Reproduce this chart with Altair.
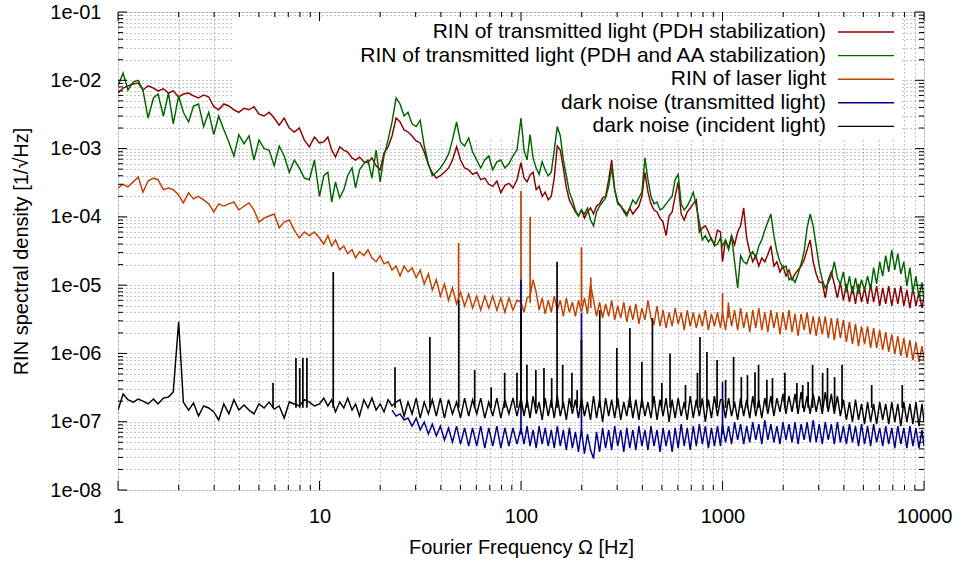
import altair as alt
import pandas as pd

# ---------------- data ----------------
freq_hz = [
    1.00, 1.06, 1.12, 1.19, 1.26, 1.33, 1.41, 1.50, 1.58, 1.68,
    1.78, 1.88, 2.00, 2.11, 2.24, 2.37, 2.51, 2.66, 2.82, 2.99,
    3.16, 3.35, 3.55, 3.76, 3.98, 4.22, 4.47, 4.73, 5.01, 5.31,
    5.62, 5.96, 6.31, 6.68, 7.08, 7.50, 7.94, 8.41, 8.91, 9.44,
    10.0, 10.5, 11.0, 11.5, 12.0, 12.6, 13.2, 13.8, 14.5, 15.1,
    15.8, 16.6, 17.4, 18.2, 19.1, 20.0, 20.9, 21.9, 22.9, 24.0,
    25.1, 26.3, 27.5, 28.8, 30.2, 31.6, 33.1, 34.7, 36.3, 38.0,
    39.8, 41.7, 43.7, 45.7, 47.9, 50.1, 52.5, 55.0, 57.5, 60.3,
    63.1, 66.1, 69.2, 72.4, 75.9, 79.4, 83.2, 87.1, 91.2, 95.5,
    100, 103.5, 107.2, 110.9, 114.8, 118.9, 123.0, 127.4, 131.8, 136.5,
    141.3, 146.2, 151.4, 156.7, 162.2, 167.9, 173.8, 179.9, 186.2, 192.8,
    199.5, 206.5, 213.8, 221.3, 229.1, 237.1, 245.5, 254.1, 263.0, 272.3,
    281.8, 291.7, 302.0, 312.6, 323.6, 335.0, 346.7, 358.9, 371.5, 384.6,
    398.1, 412.1, 426.6, 441.6, 457.1, 473.2, 489.8, 507.0, 524.8, 543.3,
    562.3, 582.1, 602.6, 623.7, 645.7, 668.3, 691.8, 716.1, 741.3, 767.4,
    794.3, 822.2, 851.1, 881.0, 912.0, 944.1, 977.2,
    1000, 1035, 1072, 1109, 1148, 1189, 1230, 1274, 1318, 1365,
    1413, 1462, 1514, 1567, 1622, 1679, 1738, 1799, 1862, 1928,
    1995, 2065, 2138, 2213, 2291, 2371, 2455, 2541, 2630, 2723,
    2818, 2917, 3020, 3126, 3236, 3350, 3467, 3589, 3715, 3846,
    3981, 4121, 4266, 4416, 4571, 4732, 4898, 5070, 5248, 5433,
    5623, 5821, 6026, 6237, 6457, 6683, 6918, 7161, 7413, 7674,
    7943, 8222, 8511, 8810, 9120, 9441, 9772, 10000,
]

pdh_rin = [
    6.5e-3, 7.7e-3, 8.3e-3, 8.8e-3, 9.1e-3, 7.2e-3, 8.3e-3, 7.7e-3, 7.0e-3, 7.5e-3,
    6.5e-3, 7.0e-3, 5.7e-3, 6.3e-3, 6.5e-3, 5.9e-3, 5.5e-3, 6.1e-3, 5.7e-3, 4.1e-3,
    3.7e-3, 4.5e-3, 4.2e-3, 3.7e-3, 3.4e-3, 3.9e-3, 3.7e-3, 4.1e-3, 3.2e-3, 3.0e-3,
    3.4e-3, 2.8e-3, 2.2e-3, 2.8e-3, 2.0e-3, 1.75e-3, 2.0e-3, 1.33e-3, 1.06e-3, 1.48e-3,
    1.21e-3, 1.25e-3, 1.48e-3, 9.5e-4, 7.5e-4, 1.06e-3, 9.5e-4, 8.9e-4, 7.3e-4, 6.8e-4,
    7.5e-4, 6.4e-4, 6.2e-4, 7.3e-4, 5.6e-4, 4.9e-4, 8.6e-4, 1.06e-3, 1.53e-3, 2.8e-3,
    2.45e-3, 1.87e-3, 1.75e-3, 1.53e-3, 1.29e-3, 1.21e-3, 8.9e-4, 5.8e-4, 4.4e-4, 3.7e-4,
    4.0e-4, 4.5e-4, 5.2e-4, 6.8e-4, 1.06e-3, 6.8e-4, 5.2e-4, 4.9e-4, 4.2e-4, 4.5e-4,
    3.5e-4, 3.7e-4, 3.0e-4, 2.8e-4, 3.35e-4, 2.25e-4, 2.9e-4, 3.1e-4, 2.65e-4, 3.5e-4,
    6.2e-4, 3.7e-4, 3.25e-4, 4.1e-4, 4.5e-4, 2.5e-4, 2.8e-4, 2.0e-4, 2.3e-4, 1.77e-4,
    2.0e-4, 3.7e-4, 1.09e-3, 9.5e-4, 5.2e-4, 2.65e-4, 1.77e-4, 1.44e-4, 1.18e-4, 1.03e-4,
    1.26e-4, 9.6e-5, 1.18e-4, 1.35e-4, 1.1e-4, 1.44e-4, 1.55e-4, 1.9e-4, 2.0e-4, 3.5e-4,
    6.8e-4, 2.5e-4, 1.65e-4, 1.44e-4, 1.26e-4, 1.1e-4, 1.35e-4, 1.1e-4, 1.26e-4, 1.44e-4,
    2.0e-4, 4.5e-4, 2.3e-4, 1.55e-4, 1.26e-4, 1.18e-4, 9.6e-5, 8.4e-5, 5.3e-5, 1.03e-4,
    1.18e-4, 2.0e-4, 3.25e-4, 1.1e-4, 9.0e-5, 1.18e-4, 1.35e-4, 1.55e-4, 1.77e-4, 6.0e-5,
    6.9e-5, 7.4e-5, 6.0e-5, 4.6e-5, 4.0e-5, 6.4e-5, 6.0e-5,
    2.2e-5, 4.6e-5, 3.5e-5, 5.3e-5, 3.9e-5, 6.0e-5, 7.4e-5, 1.35e-4, 4.9e-5, 3.1e-5,
    2.2e-5, 2.7e-5, 1.9e-5, 2.5e-5, 2.2e-5, 2.8e-5, 3.75e-5, 1.9e-5, 2.2e-5, 1.56e-5,
    1.9e-5, 1.36e-5, 1.67e-5, 1.2e-5, 1.46e-5, 1.67e-5, 1.9e-5, 2.34e-5, 3.3e-5, 4.6e-5,
    2.2e-5, 1.46e-5, 1.1e-5,
    1.1e-5, 6.5e-6, 1.2e-5, 1.56e-5, 1.04e-5, 6.5e-6, 1.1e-5, 6.0e-6, 1.04e-5, 5.65e-6,
    9.7e-6, 5.3e-6, 1.04e-5, 5.65e-6, 9.1e-6, 5.3e-6, 1.04e-5, 5.65e-6, 9.7e-6, 4.95e-6,
    9.1e-6, 5.3e-6, 9.7e-6, 4.95e-6, 9.1e-6, 5.3e-6, 9.7e-6, 4.95e-6, 8.5e-6, 4.6e-6,
    9.1e-6, 4.95e-6, 7.9e-6, 4.6e-6, 6.9e-6,
]

pdh_aa_rin = [
    8.3e-3, 1.28e-2, 7.2e-3, 9.4e-3, 1.0e-2, 7.2e-3, 2.8e-3, 5.5e-3, 6.3e-3, 3.0e-3,
    6.5e-3, 2.3e-3, 5.9e-3, 3.4e-3, 2.45e-3, 4.2e-3, 4.5e-3, 2.1e-3, 3.4e-3, 1.6e-3,
    3.0e-3, 1.9e-3, 1.25e-3, 7.8e-4, 1.6e-3, 1.17e-3, 1.53e-3, 6.8e-4, 1.34e-3, 1.0e-3,
    9.5e-4, 5.6e-4, 1.09e-3, 7.8e-4, 4.5e-4, 6.8e-4, 5.2e-4, 3.7e-4, 3.5e-4, 6.8e-4,
    2.0e-4, 4.0e-4, 4.5e-4, 1.65e-4, 3.25e-4, 1.9e-4, 2.5e-4, 4.0e-4, 5.2e-4, 2.65e-4,
    4.9e-4, 6.0e-4, 6.8e-4, 3.7e-4, 9.5e-4, 3.25e-4, 7.8e-4, 1.34e-3, 2.45e-3, 5.5e-3,
    4.5e-3, 3.0e-3, 3.4e-3, 2.3e-3, 2.1e-3, 2.6e-3, 1.09e-3, 6.0e-4, 4.0e-4, 4.5e-4,
    5.2e-4, 6.4e-4, 8.3e-4, 1.34e-3, 2.45e-3, 1.25e-3, 1.09e-3, 1.43e-3, 8.9e-4, 6.8e-4,
    5.2e-4, 6.8e-4, 7.8e-4, 4.9e-4, 6.4e-4, 6.8e-4, 5.2e-4, 6.0e-4, 7.8e-4, 9.5e-4,
    2.8e-3, 9.5e-4, 6.8e-4, 1.6e-3, 7.3e-4, 5.2e-4, 4.2e-4, 6.4e-4, 4.9e-4, 4.0e-4,
    4.5e-4, 9.5e-4, 2.1e-3, 1.53e-3, 6.8e-4, 4.0e-4, 2.3e-4, 1.77e-4, 1.26e-4, 1.03e-4,
    1.26e-4, 1.1e-4, 1.35e-4, 9.0e-5, 7.4e-5, 1.18e-4, 1.44e-4, 1.65e-4, 1.9e-4, 2.8e-4,
    5.2e-4, 2.5e-4, 1.55e-4, 1.44e-4, 1.18e-4, 1.03e-4, 1.35e-4, 1.77e-4, 1.55e-4, 1.9e-4,
    2.3e-4, 7.3e-4, 3.5e-4, 2.0e-4, 1.55e-4, 1.65e-4, 1.26e-4, 1.35e-4, 1.55e-4, 1.77e-4,
    2.0e-4, 3.5e-4, 4.2e-4, 1.55e-4, 1.26e-4, 1.44e-4, 1.77e-4, 2.3e-4, 1.44e-4, 8.4e-5,
    4.6e-5, 5.3e-5, 4.3e-5, 4.9e-5, 3.75e-5, 4.0e-5, 4.9e-5,
    3.75e-5, 4.6e-5, 3.3e-5, 5.3e-5, 2.2e-5, 9.1e-6, 2.7e-5, 2.2e-5, 2.05e-5, 2.7e-5,
    3.1e-5, 2.5e-5, 3.75e-5, 4.6e-5, 6.4e-5, 8.4e-5, 1.1e-4, 5.3e-5, 3.1e-5, 2.2e-5,
    1.8e-5, 1.9e-5, 1.2e-5, 1.28e-5, 1.1e-5, 1.46e-5, 2.05e-5, 3.1e-5, 6.9e-5, 1.1e-4,
    7.4e-5, 3.75e-5, 1.9e-5, 1.2e-5, 9.1e-6, 1.1e-5, 1.36e-5, 2.2e-5, 1.28e-5, 1.04e-5,
    1.56e-5, 7.9e-6, 1.36e-5, 7.4e-6, 1.28e-5, 7.4e-6, 1.2e-5, 8.5e-6, 1.36e-5, 8.5e-6,
    1.8e-5, 1.04e-5, 2.2e-5, 1.36e-5, 2.7e-5, 1.56e-5, 3.3e-5, 1.67e-5, 2.9e-5, 1.46e-5,
    2.2e-5, 9.7e-6, 1.8e-5, 7.9e-6, 1.36e-5, 6.5e-6, 1.1e-5, 6.0e-6,
]

laser_rin = [
    2.65e-4, 3.0e-4, 2.75e-4, 3.25e-4, 3.85e-4, 2.3e-4, 3.35e-4, 3.7e-4, 3.5e-4, 2.5e-4,
    2.65e-4, 2.5e-4, 2.1e-4, 1.6e-4, 2.25e-4, 1.83e-4, 2.0e-4, 1.77e-4, 1.55e-4, 1.18e-4,
    1.55e-4, 1.44e-4, 1.55e-4, 1.65e-4, 1.26e-4, 1.44e-4, 1.6e-4, 1.26e-4, 8.4e-5, 9.6e-5,
    1.03e-4, 1.1e-4, 6.9e-5, 8.4e-5, 9.0e-5, 6.4e-5, 4.9e-5, 6.0e-5, 5.3e-5, 6.0e-5,
    4.9e-5, 4.0e-5, 5.3e-5, 3.75e-5, 4.6e-5, 3.3e-5, 3.75e-5, 2.9e-5, 3.3e-5, 2.5e-5,
    3.1e-5, 2.7e-5, 3.3e-5, 2.5e-5, 2.2e-5, 2.7e-5, 2.05e-5, 2.2e-5, 1.67e-5, 1.9e-5,
    1.36e-5, 1.9e-5, 1.56e-5, 1.8e-5, 1.28e-5,
    1.67e-5, 1.04e-5, 1.46e-5, 8.5e-6, 1.2e-5, 6.9e-6, 1.04e-5, 6.0e-6, 9.1e-6, 5.3e-6,
    7.9e-6, 4.95e-6, 7.4e-6, 4.6e-6, 6.9e-6, 4.3e-6, 6.9e-6, 4.6e-6, 6.9e-6, 4.3e-6,
    6.5e-6, 4.0e-6, 6.5e-6, 4.3e-6, 6.0e-6,
    5.65e-6, 4.0e-6, 6.5e-6, 6.9e-6, 1.2e-5, 7.9e-6, 4.3e-6, 6.5e-6, 3.8e-6, 6.0e-6,
    4.0e-6, 6.9e-6, 4.3e-6, 6.0e-6, 3.5e-6, 6.5e-6, 4.0e-6, 5.65e-6, 3.5e-6, 6.0e-6,
    4.0e-6, 6.5e-6, 3.8e-6, 1.04e-5, 6.0e-6, 3.5e-6, 5.65e-6, 3.3e-6, 5.3e-6, 3.5e-6,
    6.0e-6, 3.1e-6, 4.95e-6, 3.3e-6, 5.65e-6, 2.9e-6, 4.95e-6, 3.1e-6, 5.3e-6, 2.7e-6,
    4.6e-6, 3.1e-6, 6.0e-6, 3.3e-6, 2.7e-6, 4.95e-6, 2.5e-6, 4.3e-6, 2.35e-6, 4.0e-6,
    2.5e-6, 4.6e-6, 2.7e-6, 4.0e-6, 2.2e-6, 4.3e-6, 2.5e-6, 4.0e-6, 2.35e-6, 3.8e-6,
    2.5e-6, 4.3e-6, 2.2e-6, 3.8e-6, 2.5e-6, 4.0e-6, 2.35e-6,
    4.0e-6, 2.2e-6, 4.95e-6, 2.5e-6, 4.3e-6, 2.2e-6, 4.6e-6, 2.35e-6, 4.0e-6, 2.05e-6,
    4.3e-6, 2.35e-6, 4.6e-6, 2.2e-6, 4.0e-6, 2.05e-6, 4.3e-6, 2.35e-6, 4.0e-6, 1.9e-6,
    4.0e-6, 2.2e-6, 4.3e-6, 2.05e-6, 3.8e-6, 1.8e-6, 3.8e-6, 2.2e-6, 4.0e-6, 1.9e-6,
    3.5e-6, 1.8e-6, 3.5e-6, 1.9e-6, 3.5e-6, 1.68e-6, 3.3e-6, 1.57e-6, 3.3e-6, 1.68e-6,
    3.1e-6, 1.47e-6, 2.9e-6, 1.37e-6, 2.7e-6, 1.28e-6, 2.5e-6, 1.37e-6, 2.5e-6, 1.2e-6,
    2.35e-6, 1.2e-6, 2.2e-6, 1.12e-6, 2.05e-6, 1.05e-6, 1.9e-6, 9.8e-7, 1.8e-6, 9.2e-7,
    1.68e-6, 8.6e-7, 1.57e-6, 8.0e-7, 1.47e-6, 7.5e-7, 1.28e-6, 8.0e-7,
]

# dark noise (transmitted light) becomes visible from about 23 Hz on
dark_trans_start = 58
dark_trans_rin = [
    1.48e-7, 1.21e-7, 1.3e-7, 1.06e-7, 1.13e-7, 8.6e-8, 1.13e-7, 7.6e-8, 9.9e-8, 6.6e-8,
    9.2e-8, 6.2e-8, 8.6e-8, 5.4e-8, 8.1e-8, 5.0e-8, 8.6e-8, 4.7e-8, 8.1e-8, 4.4e-8,
    8.1e-8, 4.4e-8, 8.6e-8, 4.1e-8, 8.1e-8, 4.4e-8, 8.6e-8, 4.1e-8, 8.1e-8, 4.4e-8,
    8.1e-8, 4.7e-8,
    8.1e-8, 4.7e-8, 8.6e-8, 4.4e-8, 7.6e-8, 4.1e-8, 8.6e-8, 4.7e-8, 8.1e-8, 4.4e-8,
    7.6e-8, 4.1e-8, 8.6e-8, 4.4e-8, 7.6e-8, 3.85e-8, 8.1e-8, 4.1e-8, 7.1e-8, 3.6e-8,
    7.6e-8, 3.4e-8, 6.6e-8, 3.85e-8, 2.9e-8, 7.1e-8, 3.6e-8, 8.1e-8, 4.1e-8, 7.6e-8,
    3.85e-8, 8.6e-8, 4.4e-8, 7.6e-8, 3.6e-8, 8.1e-8, 4.1e-8, 7.6e-8, 3.85e-8, 8.6e-8,
    4.4e-8, 7.6e-8, 3.85e-8, 8.6e-8, 4.4e-8, 7.6e-8, 3.6e-8, 8.1e-8, 4.4e-8, 7.6e-8,
    3.6e-8, 8.1e-8, 4.1e-8, 9.2e-8, 4.4e-8, 8.1e-8, 3.85e-8, 8.6e-8, 4.4e-8, 9.2e-8,
    4.7e-8, 8.6e-8, 4.1e-8, 8.1e-8, 4.4e-8, 8.6e-8, 4.4e-8,
    9.2e-8, 5.0e-8, 8.6e-8, 4.7e-8, 9.9e-8, 5.4e-8, 9.2e-8, 4.7e-8, 8.6e-8, 5.0e-8,
    9.9e-8, 5.4e-8, 9.2e-8, 4.7e-8, 1.06e-7, 5.4e-8, 9.2e-8, 5.0e-8, 8.6e-8, 4.7e-8,
    9.9e-8, 5.4e-8, 9.2e-8, 5.0e-8, 9.9e-8, 4.7e-8, 9.2e-8, 5.4e-8, 9.9e-8, 5.0e-8,
    1.06e-7, 5.0e-8, 9.2e-8, 4.7e-8, 9.9e-8, 5.4e-8, 9.2e-8, 4.7e-8, 9.9e-8, 5.0e-8,
    8.6e-8, 4.7e-8, 9.2e-8, 5.0e-8, 8.6e-8, 4.4e-8, 9.2e-8, 4.7e-8, 8.6e-8, 4.4e-8,
    9.2e-8, 5.0e-8, 8.1e-8, 4.4e-8, 8.6e-8, 4.7e-8, 8.1e-8, 4.1e-8, 8.6e-8, 4.7e-8,
    8.1e-8, 4.1e-8, 8.6e-8, 4.4e-8, 8.1e-8, 4.1e-8, 7.6e-8, 4.4e-8,
]

dark_inc_rin = [
    1.48e-7, 2.55e-7, 2.1e-7, 1.94e-7, 2.15e-7, 2.0e-7, 1.82e-7, 2.15e-7, 1.82e-7, 2.22e-7,
    2.3e-7, 2.72e-7, 2.9e-6, 1.94e-7, 1.48e-7, 1.88e-7, 1.21e-7, 1.7e-7, 1.59e-7, 1.39e-7,
    1.06e-7, 1.82e-7, 1.3e-7, 2.1e-7, 1.48e-7, 1.76e-7, 1.48e-7, 1.3e-7, 1.82e-7, 1.59e-7,
    1.94e-7, 1.53e-7, 1.7e-7, 1.13e-7, 1.94e-7, 1.82e-7, 1.7e-7, 2.1e-7, 1.94e-7, 1.7e-7,
    1.82e-7, 2.22e-7, 1.7e-7, 2.1e-7, 1.39e-7, 1.94e-7, 1.59e-7, 2.22e-7, 1.48e-7, 1.82e-7,
    1.21e-7, 2.1e-7, 1.59e-7, 2.22e-7, 1.48e-7, 1.82e-7, 1.39e-7, 2.1e-7, 1.7e-7, 1.94e-7,
    2.1e-7, 1.21e-7, 1.94e-7, 1.3e-7, 2.22e-7, 1.13e-7, 1.94e-7, 1.3e-7, 2.1e-7, 1.21e-7,
    2.22e-7, 1.13e-7, 2.1e-7, 1.3e-7, 1.94e-7, 1.13e-7, 2.22e-7, 1.21e-7, 2.1e-7, 1.3e-7,
    2.22e-7, 1.13e-7, 1.94e-7, 1.21e-7, 2.22e-7, 1.13e-7, 2.1e-7, 1.3e-7, 2.22e-7, 1.21e-7,
    2.22e-7, 1.21e-7, 2.1e-7, 1.13e-7, 2.38e-7, 1.3e-7, 1.94e-7, 1.06e-7, 2.22e-7, 1.21e-7,
    2.1e-7, 1.13e-7, 2.38e-7, 1.21e-7, 1.94e-7, 1.06e-7, 2.22e-7, 1.3e-7, 2.1e-7, 1.13e-7,
    2.22e-7, 1.21e-7, 1.94e-7, 1.06e-7, 2.38e-7, 1.13e-7, 2.1e-7, 9.9e-8, 2.22e-7, 1.21e-7,
    2.1e-7, 1.13e-7, 2.22e-7, 1.06e-7, 1.94e-7, 1.21e-7, 2.38e-7, 1.13e-7, 2.1e-7, 1.06e-7,
    2.22e-7, 1.21e-7, 1.94e-7, 1.13e-7, 2.38e-7, 1.06e-7, 2.1e-7, 1.21e-7, 2.22e-7, 9.9e-8,
    2.1e-7, 1.13e-7, 2.22e-7, 1.21e-7, 1.94e-7, 1.06e-7, 2.38e-7, 1.13e-7, 2.1e-7, 1.21e-7,
    2.22e-7, 9.9e-8, 2.1e-7, 1.13e-7, 2.38e-7, 1.21e-7, 2.1e-7,
    2.1e-7, 1.13e-7, 2.22e-7, 1.21e-7, 1.94e-7, 1.06e-7, 2.22e-7, 1.21e-7, 2.1e-7, 1.13e-7,
    2.38e-7, 1.21e-7, 2.1e-7, 1.13e-7, 2.22e-7, 1.3e-7, 2.38e-7, 1.21e-7, 2.22e-7, 1.39e-7,
    2.55e-7, 1.3e-7, 2.38e-7, 1.39e-7, 2.55e-7, 1.3e-7, 2.72e-7, 1.39e-7, 2.38e-7, 1.3e-7,
    2.55e-7, 1.39e-7, 2.38e-7, 1.3e-7, 2.72e-7, 1.39e-7, 2.55e-7, 1.3e-7, 2.38e-7, 1.21e-7,
    2.1e-7, 1.06e-7, 1.94e-7, 9.9e-8, 2.1e-7, 1.06e-7, 1.82e-7, 9.2e-8, 1.94e-7, 9.9e-8,
    1.82e-7, 9.2e-8, 1.94e-7, 1.06e-7, 1.82e-7, 9.2e-8, 1.94e-7, 9.9e-8, 1.82e-7, 8.6e-8,
    1.94e-7, 9.9e-8, 1.82e-7, 9.2e-8, 1.94e-7, 8.6e-8, 1.82e-7, 9.9e-8,
]

# narrow spectral lines (frequency, top of line, floor under it)
laser_spike_hz = [49.0, 100.0, 111.0, 199.5, 222.0, 1000.0, 1070.0]
laser_spike_top = [4.15e-5, 2.4e-4, 1.0e-4, 3.6e-5, 1.3e-5, 7.6e-6, 5.6e-6]
laser_spike_base = [6.0e-6, 5.6e-6, 5.5e-6, 4.9e-6, 4.6e-6, 3.3e-6, 3.3e-6]

dark_trans_spike_hz = [100.0, 199.5, 1000.0]
dark_trans_spike_top = [1.2e-5, 3.9e-6, 3.8e-7]
dark_trans_floor = 6.5e-8

dark_inc_spike_hz = [
    5.88, 7.64, 7.98, 8.27, 8.66, 11.7, 23.7, 35.3, 49.1, 58.9,
    71.1, 83.0, 95.5, 100.0, 107.0, 118.5, 130.0, 142.0, 151.0, 161.0,
    179.0, 190.0, 199.5, 246.0, 299.0, 347.0, 398.0, 449.0, 500.0, 549.0,
    655.0, 751.0, 773.0, 837.0, 940.0, 1036, 1135, 1240, 1330, 1450,
    1510, 1660, 1770, 2040, 2340, 2500, 2660, 2800, 3140, 3320,
    3600, 3920, 5500, 7800,
]
dark_inc_spike_top = [
    3.7e-7, 8.6e-7, 6.1e-7, 8.6e-7, 8.6e-7, 1.56e-5, 6.3e-7, 1.74e-6, 6.0e-6, 5.7e-7,
    3.2e-7, 5.2e-7, 5.2e-7, 4.5e-6, 6.8e-7, 5.7e-7, 6.1e-7, 4.35e-7, 2.2e-5, 6.8e-7,
    5.2e-7, 2.9e-7, 1.6e-6, 4.3e-6, 1.2e-6, 2.35e-6, 7.5e-7, 3.3e-6, 3.7e-7, 1.0e-6,
    3.45e-7, 5.2e-7, 1.74e-6, 1.05e-6, 8.0e-7, 4.1e-7, 8.9e-7, 4.5e-7, 4.8e-7, 5.3e-7,
    6.8e-7, 4.1e-7, 4.35e-7, 5.2e-7, 3.7e-7, 3.45e-7, 3.8e-7, 6.8e-7, 5.2e-7, 6.1e-7,
    4.5e-7, 6.8e-7, 3.45e-7, 3.45e-7,
]
dark_inc_floor = 1.6e-7

series_labels = [
    "RIN of transmitted light (PDH stabilization)",
    "RIN of transmitted light (PDH and AA stabilization)",
    "RIN of laser light",
    "dark noise (transmitted light)",
    "dark noise (incident light)",
]
series_colors = ["#8b0000", "#006400", "#c04000", "#00008b", "#000000"]

x_major = [1, 10, 100, 1000, 10000]
y_major = [1e-8, 1e-7, 1e-6, 1e-5, 1e-4, 1e-3, 1e-2, 1e-1]
mantissas = [2, 3, 4, 5, 6, 7, 8, 9]

assert len(pdh_rin) == len(freq_hz)
assert len(pdh_aa_rin) == len(freq_hz)
assert len(laser_rin) == len(freq_hz)
assert len(dark_inc_rin) == len(freq_hz)
assert len(dark_trans_rin) == len(freq_hz) - dark_trans_start
assert len(dark_inc_spike_hz) == len(dark_inc_spike_top)

# ---------------- chart ----------------
W, H = 806, 478
FONT = "Liberation Sans"
LINE_W = 1.45

x_minor = [m * d for d in x_major[:-1] for m in mantissas]
y_minor = [m * d for d in y_major[:-1] for m in mantissas]

x_scale = alt.Scale(type="log", domain=[1, 10000], nice=False)
y_scale = alt.Scale(type="log", domain=[1e-8, 1e-1], nice=False)

is_decade = "abs(log(datum.value)/LN10 - round(log(datum.value)/LN10)) < 0.001"
grid_style = dict(grid=True, gridColor="#8a8a8a", gridDash=[1, 3], gridWidth=1,
                  ticks=False, domain=False, labelFont=FONT, labelFontSize=20,
                  labelColor="#000000", titleFont=FONT, titleFontSize=20,
                  titleFontWeight="normal", titleColor="#000000",
                  labelFlush=False, labelOverlap=False)

x_axis = alt.Axis(values=sorted(x_major + x_minor),
                  labelExpr=f"{is_decade} ? format(datum.value, 'd') : ''",
                  labelPadding=16, title="Fourier Frequency Ω [Hz]",
                  titlePadding=11, **grid_style)
y_axis = alt.Axis(values=sorted(y_major + y_minor),
                  labelExpr=f"{is_decade} ? '1e-0' + format(-round(log(datum.value)/LN10), 'd') : ''",
                  labelPadding=17, title="RIN spectral density [1/√Hz]",
                  titlePadding=18, **grid_style)


def X(field):
    return alt.X(field, type="quantitative", scale=x_scale, axis=x_axis)


def Y(field):
    return alt.Y(field, type="quantitative", scale=y_scale, axis=y_axis)


def line_layer(freqs, values, color):
    df = pd.DataFrame({"f": freqs, "rin": values})
    return alt.Chart(df).mark_line(color=color, strokeWidth=LINE_W, clip=True).encode(
        x=X("f"), y=Y("rin"))


def spike_layer(freqs, tops, color, bases=None, floor=None):
    df = pd.DataFrame({"f": freqs, "rin": tops})
    if bases is not None:
        df["base"] = bases
        y2 = alt.Y2("base")
    else:
        y2 = alt.datum(floor)
    return alt.Chart(df).mark_rule(color=color, strokeWidth=1.7, clip=True).encode(
        x=X("f"), y=Y("rin"), y2=y2)


one_row = pd.DataFrame({"a": [0]})

# key area hides the dotted grid (as in the original plot)
key_mask = alt.Chart(one_row).mark_rect(color="white").encode(
    x=alt.value(114), x2=alt.value(782), y=alt.value(5), y2=alt.value(126))

layers = [
    key_mask,
    line_layer(freq_hz, pdh_rin, series_colors[0]),
    line_layer(freq_hz, pdh_aa_rin, series_colors[1]),
    line_layer(freq_hz, laser_rin, series_colors[2]),
    spike_layer(laser_spike_hz, laser_spike_top, series_colors[2], bases=laser_spike_base),
    line_layer(freq_hz[dark_trans_start:], dark_trans_rin, series_colors[3]),
    spike_layer(dark_trans_spike_hz, dark_trans_spike_top, series_colors[3], floor=dark_trans_floor),
    line_layer(freq_hz, dark_inc_rin, series_colors[4]),
    spike_layer(dark_inc_spike_hz, dark_inc_spike_top, series_colors[4], floor=dark_inc_floor),
]

# key: right-aligned text with the line sample to its right
key_y0, key_dy = 20, 23.6
for i, (lab, col) in enumerate(zip(series_labels, series_colors)):
    yy = key_y0 + i * key_dy
    layers.append(
        alt.Chart(pd.DataFrame({"t": [lab]})).mark_text(
            align="right", baseline="middle", font=FONT, fontSize=21, color="#000000"
        ).encode(x=alt.value(708), y=alt.value(yy), text="t:N"))
    layers.append(
        alt.Chart(one_row).mark_rule(color=col, strokeWidth=1.4).encode(
            x=alt.value(720), x2=alt.value(776), y=alt.value(yy)))

# inward ticks on all four sides (mirrored)
MAJ, MIN = 9, 5


def yticks(vals, size):
    df = pd.DataFrame({"v": vals})
    base = alt.Chart(df).mark_rule(color="black", strokeWidth=1)
    return [base.encode(y=Y("v"), x=alt.value(0), x2=alt.value(size)),
            base.encode(y=Y("v"), x=alt.value(W), x2=alt.value(W - size))]


def xticks(vals, size):
    df = pd.DataFrame({"v": vals})
    base = alt.Chart(df).mark_rule(color="black", strokeWidth=1)
    return [base.encode(x=X("v"), y=alt.value(H), y2=alt.value(H - size)),
            base.encode(x=X("v"), y=alt.value(0), y2=alt.value(size))]


layers += yticks(y_major, MAJ) + yticks(y_minor, MIN) + xticks(x_major, MAJ) + xticks(x_minor, MIN)

chart = alt.layer(*layers).properties(
    width=W, height=H,
    padding={"left": 118, "top": 12, "right": 39, "bottom": 71},
    autosize=alt.AutoSizeParams(type="none"),
    background="white",
).configure_view(stroke="black", strokeWidth=1.2).configure(font=FONT)

chart.save("out.html", embed_options={"renderer": "svg", "actions": False})
